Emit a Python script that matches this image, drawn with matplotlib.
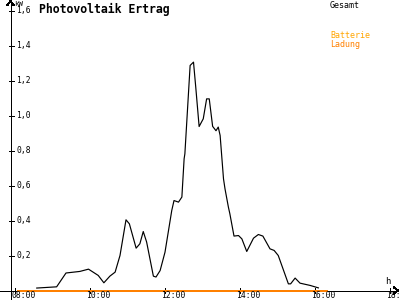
import matplotlib
matplotlib.use("Agg")
import matplotlib.pyplot as plt

# ---- data ----
gesamt_t = [8.58, 9.11, 9.36, 9.73, 9.96, 10.22, 10.37, 10.53, 10.67, 10.80,
            10.96, 11.05, 11.23, 11.33, 11.42, 11.51, 11.69, 11.76, 11.87, 12.00,
            12.18, 12.24, 12.36, 12.45, 12.51, 12.53, 12.67, 12.76, 12.82, 12.91,
            13.02, 13.11, 13.18, 13.27, 13.36, 13.42, 13.47, 13.56, 13.60, 13.69,
            13.73, 13.84, 13.96, 14.05, 14.18, 14.36, 14.49, 14.61, 14.80, 14.91,
            15.02, 15.29, 15.35, 15.47, 15.60, 15.87, 16.09]
gesamt_kw = [0.014, 0.021, 0.100, 0.109, 0.122, 0.086, 0.044, 0.082, 0.105, 0.200,
             0.404, 0.381, 0.242, 0.267, 0.337, 0.277, 0.082, 0.077, 0.114, 0.219,
             0.457, 0.514, 0.505, 0.534, 0.753, 0.781, 1.286, 1.305, 1.162, 0.937,
             0.981, 1.095, 1.095, 0.938, 0.913, 0.934, 0.886, 0.638, 0.581, 0.477,
             0.438, 0.311, 0.314, 0.295, 0.223, 0.299, 0.320, 0.311, 0.238, 0.229,
             0.200, 0.038, 0.038, 0.071, 0.042, 0.029, 0.015]
ladung_t = [8.08, 16.31]
ladung_kw = [0.0, 0.0]
y_ticks = [0.2, 0.4, 0.6, 0.8, 1.0, 1.2, 1.4, 1.6]
y_tick_labels = ["0,2", "0,4", "0,6", "0,8", "1,0", "1,2", "1,4", "1,6"]
x_ticks = [8, 10, 12, 14, 16, 18]
x_tick_labels = ["08:00", "10:00", "12:00", "14:00", "16:00", "18:00"]

# ---- layout (pixel geometry) ----
W, H = 400, 300
PX_PER_H = 37.5
PX_PER_KW = 175.0
X0_PX, T0 = 15.0, 8.0          # 08:00 at x=15 px
Y0_PX = 290.5                   # 0 kW at y=290.5 px (from top)

xmin = T0 - X0_PX / PX_PER_H
xmax = xmin + W / PX_PER_H
ymin = -(H - Y0_PX) / PX_PER_KW
ymax = Y0_PX / PX_PER_KW

fig = plt.figure(figsize=(4, 3), dpi=100)
fig.patch.set_facecolor("white")
ax = fig.add_axes([0, 0, 1, 1])
ax.set_xlim(xmin, xmax)
ax.set_ylim(ymin, ymax)
ax.axis("off")

dx = 1.0 / PX_PER_H   # one pixel in hours
dy = 1.0 / PX_PER_KW  # one pixel in kW
yaxis_t = xmin + 10.5 * dx
lw = 0.72
mono = "DejaVu Sans Mono"

# axes lines
ax.plot([yaxis_t, yaxis_t], [ymin, ymax - 1 * dy], color="black", lw=lw, antialiased=False)
ax.plot([xmin, xmax - 2 * dx], [0, 0], color="black", lw=lw, antialiased=False)
# arrows
ax.plot([yaxis_t - 3 * dx, yaxis_t, yaxis_t + 3 * dx], [ymax - 5 * dy, ymax - 1 * dy, ymax - 5 * dy],
        color="black", lw=lw, antialiased=False)
ax.plot([xmax - 6 * dx, xmax - 2 * dx, xmax - 6 * dx], [3 * dy, 0, -3 * dy],
        color="black", lw=lw, antialiased=False)

# y ticks
for v, lab in zip(y_ticks, y_tick_labels):
    ax.plot([yaxis_t - 2 * dx, yaxis_t + 3 * dx], [v, v], color="black", lw=lw, antialiased=False)
    ax.text(yaxis_t + 5.5 * dx, v, lab, fontsize=5.8, family=mono, ha="left", va="center")

# x ticks
for t, lab in zip(x_ticks, x_tick_labels):
    ax.plot([t, t], [-2 * dy, 3 * dy], color="black", lw=lw, antialiased=False)
    ax.text(t - 4 * dx, -7.3 * dy, lab, fontsize=5.8, family=mono, ha="left", va="baseline")

# series
ax.plot(ladung_t, ladung_kw, color="#FF8000", lw=1.44, antialiased=False)
ax.plot(gesamt_t, gesamt_kw, color="black", lw=0.85, antialiased=True)

# texts
def px(x, y):
    return x / W, 1 - y / H

fig.text(*px(39, 9), "Photovoltaik Ertrag", fontsize=8.3, family=mono, weight="bold",
         ha="left", va="center")
fig.text(*px(14.5, 0.5), "kW", fontsize=5.3, family=mono, ha="left", va="top")
fig.text(*px(330, 5), "Gesamt", fontsize=6, family=mono, ha="left", va="center")
fig.text(*px(330, 36), "Batterie", fontsize=6, family=mono, color="#FFA500", ha="left", va="center")
fig.text(*px(330, 44), "Ladung", fontsize=6, family=mono, color="#FF8000", ha="left", va="center")
fig.text(*px(385, 282), "h", fontsize=6.5, family=mono, ha="left", va="center")

fig.savefig("out.png", dpi=100, facecolor="white")
